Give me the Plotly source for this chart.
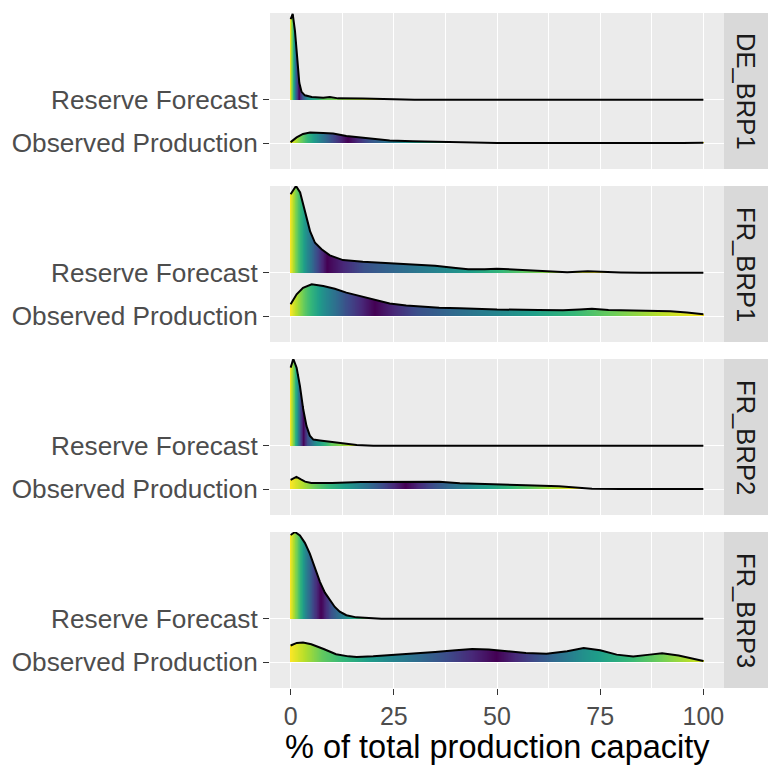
import numpy as np
import plotly.graph_objects as go
from plotly.subplots import make_subplots

# ---- ridge data: x (% of capacity) and ridge height above the baseline ----
PANELS = ["DE_BRP1", "FR_BRP1", "FR_BRP2", "FR_BRP3"]
CATEGORIES = ["Observed Production", "Reserve Forecast"]  # y = 1, y = 2

DE_BRP1_reserve_x = [0, 0.5, 1.05, 1.6, 2.1, 2.65, 3.45, 5.1, 7.9, 9.5, 11.5, 17.5, 25.5, 30, 100]
DE_BRP1_reserve_h = [1.86, 1.98, 1.59, 0.89, 0.39, 0.18, 0.10, 0.06, 0.045, 0.06, 0.03, 0.025, 0.01, 0, 0]
DE_BRP1_observed_x = [0, 1.45, 3, 4.7, 7.9, 10.3, 13.5, 18.3, 24, 29.6, 35.2, 40, 46, 50, 95, 98, 100]
DE_BRP1_observed_h = [0.02, 0.13, 0.21, 0.24, 0.23, 0.22, 0.16, 0.12, 0.06, 0.04, 0.025, 0.015, 0.006, 0, 0, 0.006, 0.006]

FR_BRP1_reserve_x = [0, 1.3, 2.3, 3.5, 4.7, 5.9, 7.5, 9.5, 12.7, 17.5, 24, 30, 35, 40, 43, 47, 50, 55, 60,
                     63, 67, 72, 75, 80, 85, 100]
FR_BRP1_reserve_h = [1.81, 2.0, 1.85, 1.38, 0.96, 0.69, 0.54, 0.40, 0.29, 0.25, 0.22, 0.19, 0.16, 0.11, 0.08,
                     0.08, 0.09, 0.07, 0.04, 0.02, 0.01, 0.03, 0.015, 0.005, 0, 0]
FR_BRP1_observed_x = [0, 1.45, 3, 5.1, 7.9, 10.7, 13.5, 17.5, 20.7, 24, 28, 32, 36, 41, 50, 60, 66, 70, 73,
                      77, 85, 92, 96, 100]
FR_BRP1_observed_h = [0.27, 0.5, 0.65, 0.73, 0.69, 0.63, 0.54, 0.45, 0.37, 0.29, 0.24, 0.21, 0.19, 0.18,
                      0.15, 0.14, 0.13, 0.15, 0.17, 0.14, 0.13, 0.11, 0.08, 0.04]

FR_BRP2_reserve_x = [0, 0.65, 1.45, 2.25, 3.05, 3.85, 4.65, 5.5, 7.1, 9.5, 12.7, 16, 20, 100]
FR_BRP2_reserve_h = [1.8, 2.0, 1.8, 1.38, 0.84, 0.45, 0.23, 0.14, 0.12, 0.09, 0.04, 0.015, 0, 0]
FR_BRP2_observed_x = [0, 1.4, 2.5, 3.5, 5, 10, 17, 25, 30, 36, 41, 49, 57, 65, 69, 73, 80, 100]
FR_BRP2_observed_h = [0.21, 0.28, 0.22, 0.17, 0.14, 0.14, 0.16, 0.17, 0.17, 0.17, 0.13, 0.1, 0.085,
                      0.065, 0.03, 0.005, 0, 0]

FR_BRP3_reserve_x = [0, 1.05, 2.25, 3.45, 4.65, 5.9, 7.1, 8.3, 9.5, 10.7, 11.9, 13.5, 15.9, 18.7, 22, 100]
FR_BRP3_reserve_h = [1.93, 2.0, 1.92, 1.75, 1.5, 1.18, 0.85, 0.6, 0.42, 0.27, 0.16, 0.08, 0.03, 0.01, 0, 0]
FR_BRP3_observed_x = [0, 1.5, 3, 5, 8, 11, 14, 16, 20, 25, 30, 35, 40, 44, 48, 52, 57, 62, 67, 71, 75, 79,
                      83, 87, 90, 94, 98, 100]
FR_BRP3_observed_h = [0.38, 0.44, 0.45, 0.41, 0.3, 0.18, 0.13, 0.115, 0.13, 0.16, 0.19, 0.23, 0.27, 0.3,
                      0.29, 0.25, 0.21, 0.19, 0.25, 0.32, 0.27, 0.17, 0.13, 0.17, 0.2, 0.15, 0.06, 0.025]

# ---- quantiles of each distribution (x where the cumulative share hits each level) ----
QUANTILE_LEVELS = [0, 0.125, 0.25, 0.375, 0.5, 0.625, 0.75, 0.875, 1.0]
DE_BRP1_reserve_q = [0, 0.6, 1.1, 1.6, 2.2, 3.0, 4.5, 8, 25]
DE_BRP1_observed_q = [0, 3, 6.5, 10, 14, 19, 28, 40, 60]
FR_BRP1_reserve_q = [0, 1.8, 3.9, 6.3, 9.0, 18, 40, 57, 75]
FR_BRP1_observed_q = [0, 3.5, 8, 13.5, 20.5, 31, 54, 76, 100]
FR_BRP2_reserve_q = [0, 1.05, 1.85, 2.5, 3.2, 4.3, 6.3, 10, 18]
FR_BRP2_observed_q = [0, 6.5, 15, 22, 28, 35, 45, 58, 70]
FR_BRP3_reserve_q = [0, 1.9, 3.5, 5.3, 7.5, 10, 14, 18, 25]
FR_BRP3_observed_q = [0, 8, 22, 37, 50, 60, 71, 88, 104]

X_TICKS = [0, 25, 50, 75, 100]
X_TITLE = "% of total production capacity"

RIDGES = {
    "DE_BRP1": [(DE_BRP1_reserve_x, DE_BRP1_reserve_h, DE_BRP1_reserve_q, 2),
                (DE_BRP1_observed_x, DE_BRP1_observed_h, DE_BRP1_observed_q, 1)],
    "FR_BRP1": [(FR_BRP1_reserve_x, FR_BRP1_reserve_h, FR_BRP1_reserve_q, 2),
                (FR_BRP1_observed_x, FR_BRP1_observed_h, FR_BRP1_observed_q, 1)],
    "FR_BRP2": [(FR_BRP2_reserve_x, FR_BRP2_reserve_h, FR_BRP2_reserve_q, 2),
                (FR_BRP2_observed_x, FR_BRP2_observed_h, FR_BRP2_observed_q, 1)],
    "FR_BRP3": [(FR_BRP3_reserve_x, FR_BRP3_reserve_h, FR_BRP3_reserve_q, 2),
                (FR_BRP3_observed_x, FR_BRP3_observed_h, FR_BRP3_observed_q, 1)],
}

# ---- geometry ----
W, H = 768, 767
M_L, M_R, M_T, M_B = 270, 44, 13, 79
PLOT_W = W - M_L - M_R
PLOT_H = H - M_T - M_B
GAP = 17
FONT = "Liberation Sans, Arial, Helvetica, sans-serif"
STEP = 0.1

fig = make_subplots(rows=4, cols=1, shared_xaxes=True, vertical_spacing=GAP / PLOT_H)

for row, panel in enumerate(PANELS, start=1):
    for xs, hs, qs, baseline in RIDGES[panel]:
        # gradient fill: thin bars coloured by tail probability
        gx = np.arange(STEP / 2, 100, STEP)
        gh = np.interp(gx, xs, hs)
        ecdf = np.interp(gx, qs, QUANTILE_LEVELS)
        tail = np.abs(2 * ecdf - 1)
        fig.add_trace(go.Bar(
            x=gx, y=gh, base=baseline, width=STEP * 1.05,
            marker=dict(color=tail, colorscale="Viridis", cmin=0, cmax=1, line=dict(width=0)),
            showlegend=False, hoverinfo="skip"), row=row, col=1)
        # outline of the ridge
        fig.add_trace(go.Scatter(
            x=xs, y=[baseline + v for v in hs], mode="lines",
            line=dict(color="black", width=2), showlegend=False, hoverinfo="skip"),
            row=row, col=1)

    # facet strip on the right
    yref = "y domain" if row == 1 else f"y{row} domain"
    fig.add_shape(type="rect", xref="paper", yref=yref, x0=1, x1=1 + (M_R + 2) / PLOT_W,
                  y0=0, y1=1, fillcolor="#D9D9D9", line=dict(width=0), layer="below")
    fig.add_annotation(text=panel, xref="paper", yref=yref, x=1 + (M_R / 2) / PLOT_W, y=0.5,
                       textangle=90, showarrow=False, xanchor="center", yanchor="middle",
                       font=dict(family=FONT, size=25.6, color="#1A1A1A"))

    fig.update_yaxes(row=row, col=1, range=[0.4, 4.0], tickmode="array", tickvals=[1, 2],
                     ticktext=CATEGORIES, showgrid=True, gridcolor="white", gridwidth=1.1,
                     zeroline=False, showline=False, ticks="outside", ticklen=6,
                     tickcolor="#333333", tickwidth=1.1,
                     tickfont=dict(family=FONT, size=26.2, color="#4D4D4D"))
    fig.update_xaxes(row=row, col=1, range=[-5, 105], tickmode="array", tickvals=X_TICKS,
                     showgrid=True, gridcolor="white", gridwidth=1.1, zeroline=False,
                     showline=False,
                     minor=dict(tickmode="array", tickvals=[12.5, 37.5, 62.5, 87.5],
                                showgrid=True, gridcolor="white", gridwidth=0.55, ticks=""),
                     ticks="outside" if row == 4 else "", ticklen=6, tickcolor="#333333",
                     tickwidth=1.1, showticklabels=(row == 4),
                     tickfont=dict(family=FONT, size=25, color="#4D4D4D"))

fig.add_annotation(text=X_TITLE, xref="paper", yref="paper", x=0.5, y=-(747 - (H - M_B)) / PLOT_H,
                   showarrow=False, xanchor="center", yanchor="middle",
                   font=dict(family=FONT, size=32.5, color="black"))

fig.update_layout(
    width=W, height=H, margin=dict(l=M_L, r=M_R, t=M_T, b=M_B),
    paper_bgcolor="white", plot_bgcolor="#EBEBEB", barmode="overlay", bargap=0,
    font=dict(family=FONT),
)

fig.write_html("out.html")
